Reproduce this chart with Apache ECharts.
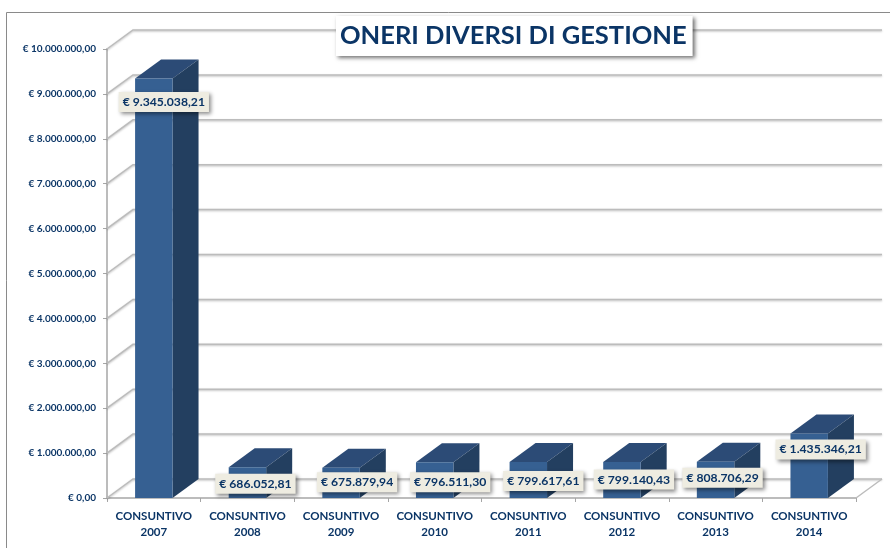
<!DOCTYPE html>
<html>
<head>
<meta charset="utf-8">
<title>Oneri diversi di gestione</title>
<style>
  html, body { margin: 0; padding: 0; background: #fff; }
  #chart { width: 890px; height: 548px; }
</style>
<script src="https://cdn.jsdelivr.net/npm/echarts@6/dist/echarts.min.js"></script>
</head>
<body>
<div id="chart"></div>
<script>
const categories = ["CONSUNTIVO\n2007", "CONSUNTIVO\n2008", "CONSUNTIVO\n2009", "CONSUNTIVO\n2010", "CONSUNTIVO\n2011", "CONSUNTIVO\n2012", "CONSUNTIVO\n2013", "CONSUNTIVO\n2014"];
const values = [9345038.21, 686052.81, 675879.94, 796511.30, 799617.61, 799140.43, 808706.29, 1435346.21];
const valueLabels = ["€ 9.345.038,21", "€ 686.052,81", "€ 675.879,94", "€ 796.511,30", "€ 799.617,61", "€ 799.140,43", "€ 808.706,29", "€ 1.435.346,21"];
const yTicks = [0, 1000000, 2000000, 3000000, 4000000, 5000000, 6000000, 7000000, 8000000, 9000000, 10000000];
const yTickLabels = ["€ 0,00", "€ 1.000.000,00", "€ 2.000.000,00", "€ 3.000.000,00", "€ 4.000.000,00", "€ 5.000.000,00", "€ 6.000.000,00", "€ 7.000.000,00", "€ 8.000.000,00", "€ 9.000.000,00", "€ 10.000.000,00"];

// fake 3d depth, in pixels
const depthX = 26;
const depthY = 19;
// hand placed data labels: shift from bar top centre
const labelShiftX = [10, 8, 16, 15.5, 15, 12, 7, 11.5];
const labelShiftY = [23.5, 16.5, 14.5, 20, 19, 17.5, 16, 16];

const textColor = "#0b3566";
const fontFamily = "Lato, 'Open Sans', sans-serif";

function renderWall(params, api) {
  const area = params.coordSys;
  const y = api.coord([0, api.value(0)])[1];
  const left = area.x;
  const right = area.x + area.width;
  const isFloor = api.value(0) === 0;
  const children = [{
    type: "polyline",
    shape: { points: [[left, y], [left + depthX, y - depthY], [right + depthX, y - depthY]] },
    style: { fill: null, stroke: "#bcbcbc", lineWidth: 1.5, shadowBlur: 2, shadowColor: "rgba(0,0,0,0.25)", shadowOffsetY: 1 }
  }];
  if (isFloor) {
    children.push({
      type: "line",
      shape: { x1: right, y1: y, x2: right + depthX, y2: y - depthY },
      style: { stroke: "#bcbcbc", lineWidth: 1.5 }
    });
  }
  return { type: "group", children: children };
}

function renderBar(params, api) {
  const idx = api.value(0);
  const top = api.coord([idx, api.value(1)]);
  const base = api.coord([idx, 0]);
  const w = api.size([1, 0])[0] * 0.4;
  const x0 = top[0] - w / 2;
  const x1 = top[0] + w / 2;
  return {
    type: "group",
    children: [
      {
        type: "polygon",
        shape: { points: [[x0, top[1]], [x0 + depthX, top[1] - depthY], [x1 + depthX, top[1] - depthY], [x1, top[1]]] },
        style: { fill: "#2c4b76" }
      },
      {
        type: "polygon",
        shape: { points: [[x1, top[1]], [x1 + depthX, top[1] - depthY], [x1 + depthX, base[1] - depthY], [x1, base[1]]] },
        style: { fill: "#233f60" }
      },
      {
        type: "rect",
        shape: { x: x0, y: top[1], width: x1 - x0, height: base[1] - top[1] },
        style: { fill: "#366092" }
      }
    ]
  };
}

function renderLabel(params, api) {
  const idx = api.value(0);
  const top = api.coord([idx, api.value(1)]);
  return {
    type: "text",
    x: top[0] + labelShiftX[idx],
    y: top[1] + labelShiftY[idx],
    style: {
      text: valueLabels[idx],
      align: "center",
      verticalAlign: "middle",
      fontFamily: fontFamily,
      fontWeight: "bold",
      fontSize: 12.2,
      fill: textColor,
      backgroundColor: "#eeece1",
      padding: [4, 4, 4, 4],
      shadowBlur: 4,
      shadowColor: "rgba(0,0,0,0.45)",
      shadowOffsetX: 2,
      shadowOffsetY: 2
    }
  };
}

const chart = echarts.init(document.getElementById("chart"));
chart.setOption({
  animation: false,
  backgroundColor: "#fff",
  title: {
    text: "ONERI DIVERSI DI GESTIONE",
    left: 336,
    top: 16,
    padding: [7, 6, 7, 4],
    backgroundColor: "#fff",
    shadowBlur: 4,
    shadowColor: "rgba(0,0,0,0.55)",
    shadowOffsetX: 2,
    shadowOffsetY: 2,
    textStyle: { fontFamily: fontFamily, fontWeight: "bold", fontSize: 25.5, color: textColor }
  },
  graphic: [
    { type: "line", z: -10, shape: { x1: 6.5, y1: 12.5, x2: 890, y2: 12.5 }, style: { stroke: "#8a8a8a", lineWidth: 1 } },
    { type: "line", z: -10, shape: { x1: 6.5, y1: 12.5, x2: 6.5, y2: 548 }, style: { stroke: "#8a8a8a", lineWidth: 1 } }
  ],
  grid: { left: 107, right: 34, top: 49, bottom: 50 },
  xAxis: {
    type: "category",
    data: categories,
    axisLine: { lineStyle: { color: "#bcbcbc", width: 2 } },
    axisTick: { show: true, length: 4, lineStyle: { color: "#a6a6a6" } },
    axisLabel: { interval: 0, margin: 10, lineHeight: 16, fontFamily: fontFamily, fontWeight: "bold", fontSize: 11.5, color: textColor }
  },
  yAxis: {
    type: "value",
    min: 0,
    max: 10000000,
    interval: 1000000,
    splitLine: { show: false },
    axisLine: { show: true, lineStyle: { color: "#bcbcbc", width: 2 } },
    axisTick: { show: true, length: 4, lineStyle: { color: "#a6a6a6" } },
    axisLabel: {
      margin: 11,
      fontFamily: fontFamily,
      fontWeight: "bold",
      fontSize: 10,
      color: textColor,
      formatter: (v) => yTickLabels[yTicks.indexOf(v)]
    }
  },
  series: [
    {
      type: "custom",
      z: 1,
      silent: true,
      clip: false,
      renderItem: renderWall,
      encode: { y: 0 },
      data: yTicks.map((t) => [t])
    },
    {
      type: "custom",
      z: 3,
      clip: false,
      renderItem: renderBar,
      encode: { x: 0, y: 1 },
      data: values.map((v, i) => [i, v])
    },
    {
      type: "custom",
      z: 5,
      clip: false,
      renderItem: renderLabel,
      encode: { x: 0, y: 1 },
      data: values.map((v, i) => [i, v])
    }
  ]
});
</script>
</body>
</html>
